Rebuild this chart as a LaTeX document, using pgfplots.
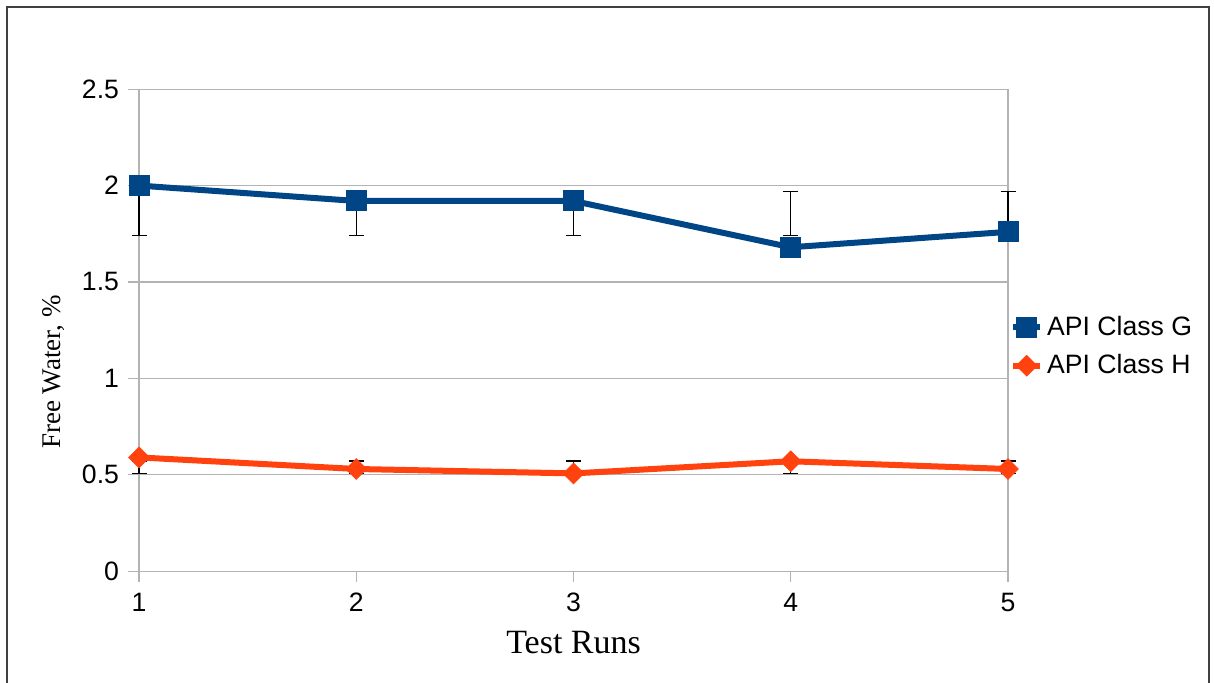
\documentclass[border=0pt]{standalone}
\usepackage{pgfplots}
\pgfplotsset{compat=1.18}
\usepackage{fontspec}
\setmainfont{Liberation Sans}
\newfontfamily\seriffont{Liberation Serif}
\definecolor{cblue}{HTML}{004586}
\definecolor{corange}{HTML}{FF420E}
\definecolor{gridgray}{HTML}{B3B3B3}
\begin{document}
\begin{tikzpicture}[x=1pt,y=1pt]
\useasboundingbox (0,0) rectangle (607,341.5);
\draw[black!75, line width=0.9pt] (3.5,-2) -- (3.5,338) -- (604.5,338) -- (604.5,-2);
\begin{axis}[
  at={(64,58)}, anchor=south west,
  scale only axis, width=434.5pt, height=241pt,
  xmin=1, xmax=5, ymin=0, ymax=2.5,
  xtick={1,2,3,4,5}, ytick={0,0.5,1,1.5,2,2.5},
  yticklabels={0,0.5,1,1.5,2,2.5},
  xticklabels={1,2,3,4,5},
  ymajorgrids, grid style={gridgray, line width=0.6pt},
  axis line style={gridgray, line width=0.6pt},
  tick style={gridgray, line width=0.6pt},
  tick align=outside, major tick length=5.5pt,
  xtick pos=bottom, ytick pos=left,
  ticklabel style={font=\fontsize{13.3}{15}\selectfont, text=black},
  yticklabel style={xshift=-1pt},
  xticklabel style={yshift=-2pt},
  xlabel={\seriffont Test Runs},
  ylabel={\seriffont Free Water, \%},
  xlabel style={font=\fontsize{17}{20}\selectfont, at={(axis description cs:0.5,-0.149)}, anchor=center},
  ylabel style={font=\fontsize{13.5}{16}\selectfont, at={(axis description cs:-0.098,0.413)}, anchor=center},
  legend style={at={(1.002,0.466)}, anchor=west, draw=none, fill=none,
    font=\fontsize{13.3}{15}\selectfont, row sep=4pt,
    inner xsep=0pt, cells={anchor=west}},
  legend image code/.code={\draw[#1, mark repeat=2, mark phase=2] plot coordinates {(0pt,0pt) (6.75pt,0pt) (13.5pt,0pt)};},
  clip=false,
]
\addplot[cblue, line width=3pt, mark=square*, mark size=5pt, mark options={line width=0.5pt, fill=cblue}]
  coordinates {(1,2.00) (2,1.92) (3,1.92) (4,1.68) (5,1.76)};
\addlegendentry{API Class G}
\addplot[corange, line width=3pt, mark=square*, mark size=3.6pt, mark options={rotate=45, line width=0.5pt, fill=corange}]
  coordinates {(1,0.59) (2,0.53) (3,0.507) (4,0.57) (5,0.53)};
\addlegendentry{API Class H}
\addplot[draw=none, forget plot, error bars/.cd, y dir=both, y explicit,
  error bar style={black, line width=0.7pt}, error mark options={rotate=90, black, line width=0.7pt, mark size=3.75pt}]
  coordinates {(1,1.855) +- (0,0.115) (2,1.855) +- (0,0.115) (3,1.855) +- (0,0.115) (4,1.855) +- (0,0.115) (5,1.855) +- (0,0.115)};
\addplot[draw=none, forget plot, error bars/.cd, y dir=both, y explicit,
  error bar style={black, line width=0.7pt}, error mark options={rotate=90, black, line width=0.7pt, mark size=3.75pt}]
  coordinates {(1,0.54) +- (0,0.032) (2,0.54) +- (0,0.032) (3,0.54) +- (0,0.032) (4,0.54) +- (0,0.032) (5,0.54) +- (0,0.032)};
\end{axis}
\end{tikzpicture}
\end{document}
